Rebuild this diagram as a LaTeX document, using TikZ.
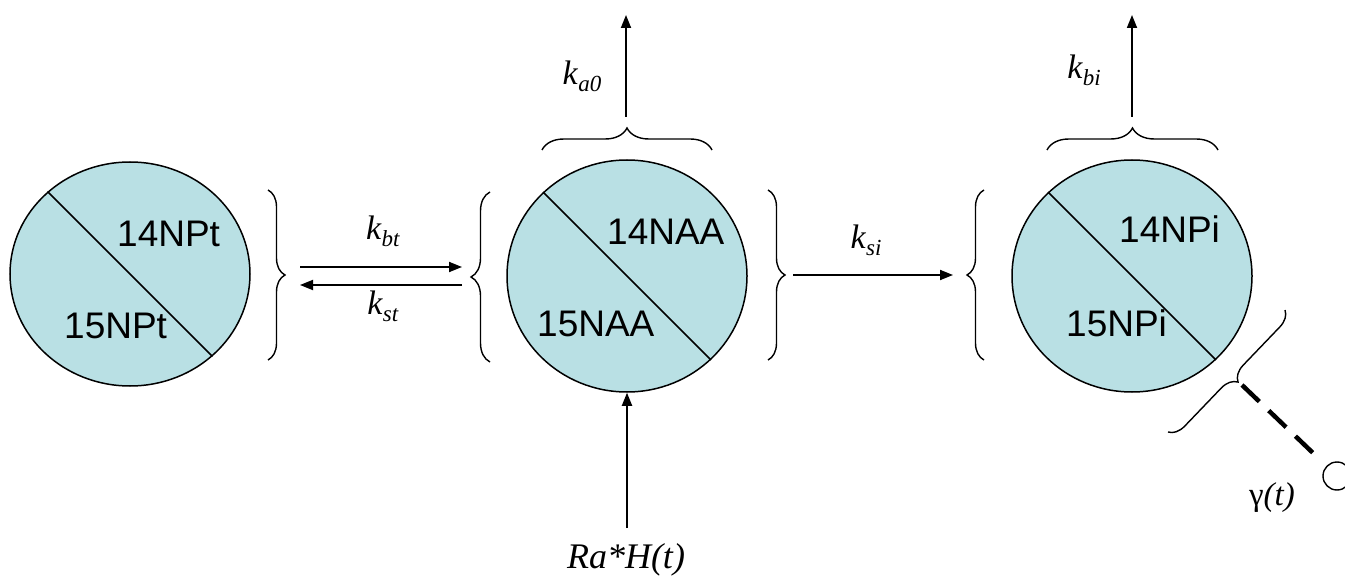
\documentclass[tikz,border=0pt]{standalone}
\usepackage{fontspec}
\setmainfont{Liberation Serif}
\newfontfamily\arialf{Liberation Sans}
\usetikzlibrary{shapes.geometric,arrows.meta,decorations.pathreplacing}
\definecolor{poolc}{RGB}{185,224,228}
\newcommand{\kl}[1]{\textit{k}\raisebox{-7pt}{\fontsize{23}{23}\selectfont\textit{#1}}}
\begin{document}
\begin{tikzpicture}[x=1pt,y=-1pt,
  pool/.style={ellipse, draw, line width=1.5pt, fill=poolc, minimum width=240pt, minimum height=#1, inner sep=0pt},
  iso/.style={font=\arialf\fontsize{37}{37}\selectfont, inner sep=0pt, anchor=base west},
  rate/.style={font=\fontsize{34}{34}\selectfont, inner sep=0pt},
  flow/.style={line width=1.8pt, -{Triangle[length=13pt,width=10pt]}},
  brc/.style={decorate, decoration={brace, amplitude=#1}, line width=1.4pt},
  divl/.style={line width=1.5pt}
]
\clip (0,0) rectangle (1345,580);
\fill[white] (0,0) rectangle (1345,580);

% pools
\node[pool=224pt] (L) at (130,274) {};
\node[pool=232pt] (M) at (627,276) {};
\node[pool=232pt] (R) at (1132,276) {};
\draw[divl] (L.135) -- (L.-45);
\draw[divl] (M.135) -- (M.-45);
\draw[divl] (R.135) -- (R.-45);

\node[iso] (t14) at (117,247) {14NPt};
\node[iso] (t15) at (64,338) {15NPt};
\node[iso] (a14) at (607,245) {14NAA};
\node[iso] (a15) at (537,337) {15NAA};
\node[iso] (i14) at (1119,243) {14NPi};
\node[iso] (i15) at (1066,337) {15NPi};

% braces
\draw[brc=17pt] (268,190) -- (268,360);
\draw[brc=19pt] (490,362) -- (490,192);
\draw[brc=17pt] (768,190) -- (768,360);
\draw[brc=17pt] (984,360) -- (984,190);
\draw[brc=22pt] (542,150) -- (712,150);
\draw[brc=22pt] (1047,150) -- (1218,150);
\draw[brc=16pt] (1285,310) -- (1168,432);

% connector end points
\coordinate (bt1) at (300,267);
\coordinate (bt2) at (462,267);
\coordinate (st1) at (462,285);
\coordinate (st2) at (300,285);
\coordinate (si1) at (793,275);
\coordinate (si2) at (953,275);
\coordinate (a01) at (626,117);
\coordinate (a02) at (626,15);
\coordinate (bi1) at (1132,117);
\coordinate (bi2) at (1132,15);
\coordinate (ra1) at (627,528);
\coordinate (gtip) at (1242,385);

\draw[flow] (bt1) -- (bt2);
\draw[flow] (st1) -- (st2);
\draw[flow] (si1) -- (si2);
\draw[flow] (a01) -- (a02);
\draw[flow] (bi1) -- (bi2);
\draw[flow] (ra1) -- (M.south);

\node[circle, draw, line width=1.4pt, fill=white, minimum size=28pt, inner sep=0pt] (gc) at (1337,476) {};
\draw[line width=4.5pt, dash pattern=on 24pt off 13pt, shorten >=19pt] (gtip) -- (gc);

% labels
\node[rate] (kbt) at (383,231) {\kl{bt}};
\node[rate] (kst) at (383,306) {\kl{st}};
\node[rate] (ksi) at (866,240) {\kl{si}};
\node[rate] (ka0) at (582,76) {\kl{a0}};
\node[rate] (kbi) at (1084,70) {\kl{bi}};
\node[font=\fontsize{36}{36}\selectfont\itshape, inner sep=0pt] (rah) at (626,560) {Ra*H(t)};
\node[font=\fontsize{33}{33}\selectfont, inner sep=0pt] (gam) at (1272,498) {γ\textit{(t)}};
\end{tikzpicture}
\end{document}
